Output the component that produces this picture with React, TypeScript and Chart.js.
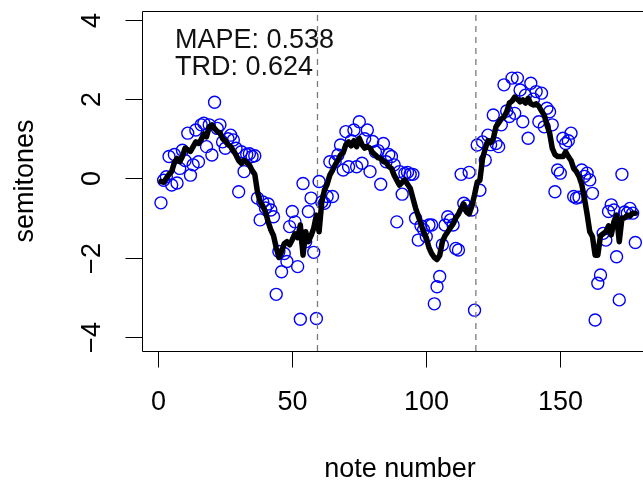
import React, { useEffect, useRef } from "react";
import { Chart, registerables } from "chart.js";

Chart.register(...registerables);

// Observed note pitches (semitones), one per note number 1..178
const observedPitch = [
  -0.62, -0.05, 0.04, 0.55, -0.17, 0.6, -0.12, 0.25, 0.71, 0.45,
  1.14, 0.08, 0.34, 1.22, 0.42, 1.35, 1.39, 0.8, 1.35, 0.59,
  1.92, 1.26, 1.35, 0.92, 0.76, 1.0, 1.09, 0.97, 0.76, -0.34,
  0.67, 0.17, 0.6, 0.62, 0.55, 0.57, -0.5, -1.05, -0.6, -0.75,
  -0.65, -0.8, -0.97, -2.93, -1.85, -2.36, -1.9, -2.1, -1.22, -0.84,
  -1.1, -2.23, -3.56, -0.13, -1.6, -0.84, -0.5, -1.87, -3.54, -0.08,
  -0.6, -0.63, -0.46, 0.42, -0.46, 0.42, 0.59, 0.84, 0.21, 1.18,
  0.29, 0.95, 1.22, 0.29, 1.43, 0.38, 1.0, 1.22, 0.17, 0.93,
  0.67, 0.7, -0.15, 0.88, 0.42, 0.6, 0.55, 0.34, -1.1, 0.17,
  -0.4, 0.12, 0.15, 0.1, 0.1, -1.01, -1.56, -1.2, -1.3, -1.47,
  -1.18, -1.18, -3.17, -2.74, -2.48, -1.68, -1.18, -0.97, -1.05, -1.18,
  -1.77, -1.81, 0.1, -0.63, -0.7, 0.15, -0.8, -3.33, 0.84, -0.3,
  0.92, 0.46, 1.09, 0.85, 1.6, 0.88, 0.8, 1.35, 2.36, 1.7,
  1.56, 2.53, 1.64, 2.53, 2.23, 1.43, 2.1, 1.01, 2.4, 2.0,
  2.19, 1.43, 2.15, 1.3, 1.77, 1.68, 1.35, -0.34, 0.21, 0.13,
  1.01, 0.88, 0.95, 1.14, -0.46, -0.5, -0.48, 0.21, 0.05, 0.13,
  -0.04, -0.38, -3.58, -2.65, -2.44, -1.39, -1.56, -0.84, -0.67, -0.8,
  -1.98, -3.07, 0.1, -0.85, -0.88, -0.76, -0.88, -1.62,
];

// Fitted / smoothed contour (semitones), one per note number 1..178
const fittedPitch = [
  -0.08, -0.1, 0.0, 0.1, 0.17, 0.4, 0.5, 0.42, 0.55, 0.76,
  0.72, 0.68, 0.8, 0.92, 0.88, 0.98, 1.12, 1.05, 1.3, 1.35,
  1.26, 1.18, 1.15, 1.0, 0.95, 0.85, 0.8, 0.7, 0.59, 0.45,
  0.38, 0.45, 0.4, 0.34, 0.2, 0.1, -0.34, -0.59, -0.7, -0.85,
  -1.1, -1.3, -1.45, -1.75, -2.0, -1.85, -1.65, -1.6, -1.68, -1.55,
  -1.4, -1.5, -1.18, -1.94, -1.35, -1.6, -1.45, -1.26, -0.93, -1.35,
  -0.6, -0.3, -0.15, 0.08, 0.2, 0.34, 0.45, 0.59, 0.65, 0.85,
  0.92, 0.82, 0.95, 0.8, 1.01, 0.85, 0.76, 0.8, 0.76, 0.65,
  0.59, 0.52, 0.5, 0.42, 0.4, 0.3, 0.25, 0.08, -0.05, -0.17,
  -0.1, -0.04, -0.15, -0.25, -0.5, -0.75, -0.95, -1.15, -1.35, -1.5,
  -1.75, -1.9, -2.0, -2.05, -1.95, -1.6, -1.45, -1.35, -1.25, -1.15,
  -1.0, -0.9, -0.76, -0.65, -0.85, -0.9, -0.7, -0.42, -0.1, -0.05,
  0.5, 0.75, 0.95, 0.9, 1.0, 1.3, 1.4, 1.5, 1.55, 1.68,
  1.9, 1.95, 2.05, 2.0, 1.93, 1.98, 1.9, 2.02, 1.88, 1.85,
  1.88, 1.82, 1.7, 1.6, 1.35, 1.15, 0.76, 0.6, 0.55, 0.55,
  0.55, 0.67, 0.55, 0.45, 0.25, 0.17, 0.05, -0.15, -0.5, -0.9,
  -1.35, -1.47, -1.94, -1.94, -1.45, -1.4, -1.35, -1.2, -1.43, -1.1,
  -0.93, -1.6, -1.01, -1.0, -0.93, -0.95, -0.88, -0.88,
];

// Phrase boundaries (dashed vertical lines)
const boundaries = [59.4, 118.5];

const xTicks = [0, 50, 100, 150];
const yTicks = [-4, -2, 0, 2, 4];
const metricLines = ["MAPE: 0.538", "TRD: 0.624"];
const xTitle = "note number";
const yTitle = "semitones";

const X_MIN = -6.19;
const X_MAX = 180.86;
const Y_MIN = -4.361;
const Y_MAX = 4.225;

const FONT = '27px "Liberation Sans", Arial, Helvetica, sans-serif';

const rAxesPlugin = {
  id: "rAxes",
  afterDraw(chart: any) {
    const ctx = chart.ctx as CanvasRenderingContext2D;
    const { left, top, right, bottom } = chart.chartArea;
    const xs = chart.scales.x;
    const ys = chart.scales.y;
    ctx.save();
    ctx.strokeStyle = "#000";
    ctx.lineWidth = 1;
    // box (right side lies beyond the canvas)
    const L = Math.round(left) + 0.5;
    const T = Math.round(top) + 0.5;
    const B = Math.round(bottom) + 0.5;
    ctx.beginPath();
    ctx.moveTo(right + 10, T);
    ctx.lineTo(L, T);
    ctx.lineTo(L, B);
    ctx.lineTo(right + 10, B);
    ctx.stroke();

    ctx.fillStyle = "#000";
    ctx.font = FONT;
    // x ticks + labels
    ctx.textAlign = "center";
    ctx.textBaseline = "middle";
    xTicks.forEach((v) => {
      const px = Math.round(xs.getPixelForValue(v)) + 0.5;
      ctx.beginPath();
      ctx.moveTo(px, B);
      ctx.lineTo(px, B + 16);
      ctx.stroke();
      ctx.fillText(String(v), px, 403);
    });
    // y ticks + rotated labels
    yTicks.forEach((v) => {
      const py = Math.round(ys.getPixelForValue(v)) + 0.5;
      ctx.beginPath();
      ctx.moveTo(L - 17, py);
      ctx.lineTo(L, py);
      ctx.stroke();
      ctx.save();
      ctx.translate(93, py);
      ctx.rotate(-Math.PI / 2);
      ctx.fillText(v < 0 ? "\u2212" + String(-v) : String(v), 0, 0);
      ctx.restore();
    });
    // axis titles
    ctx.fillText(xTitle, 400, 470);
    ctx.save();
    ctx.translate(26, (top + bottom) / 2);
    ctx.rotate(-Math.PI / 2);
    ctx.fillText(yTitle, 0, 0);
    ctx.restore();
    // metrics text
    ctx.textAlign = "left";
    ctx.textBaseline = "alphabetic";
    ctx.fillStyle = "#111";
    ctx.fillText(metricLines[0], 175, 47.5);
    ctx.fillText(metricLines[1], 175, 75);
    ctx.restore();
  },
};

export default function App() {
  const canvasRef = useRef<HTMLCanvasElement | null>(null);

  useEffect(() => {
    const canvas = canvasRef.current;
    if (!canvas) return;
    const points = observedPitch.map((y, i) => ({ x: i + 1, y }));
    const fitted = fittedPitch.map((y, i) => ({ x: i + 1, y }));
    const boundaryDatasets = boundaries.map((b) => ({
      type: "line" as const,
      data: [
        { x: b, y: Y_MIN },
        { x: b, y: Y_MAX },
      ],
      borderColor: "#7a7a7a",
      borderWidth: 1.3,
      borderDash: [6, 5],
      pointRadius: 0,
      showLine: true,
      order: 1,
    }));
    const chart = new Chart(canvas, {
      type: "scatter",
      data: {
        datasets: [
          {
            type: "line",
            data: fitted,
            borderColor: "#000",
            borderWidth: 5.5,
            borderJoinStyle: "round",
            borderCapStyle: "round",
            pointRadius: 0,
            showLine: true,
            tension: 0,
            order: 0,
          } as any,
          ...boundaryDatasets,
          {
            data: points,
            pointStyle: "circle",
            pointRadius: 6,
            pointBorderWidth: 1.4,
            pointBorderColor: "#0000ff",
            pointBackgroundColor: "rgba(0,0,0,0)",
            showLine: false,
            order: 2,
          },
        ],
      },
      options: {
        animation: false,
        responsive: false,
        maintainAspectRatio: false,
        devicePixelRatio: 1,
        layout: { autoPadding: false, padding: { left: 141.7, top: 11, right: 0, bottom: 135 } },
        plugins: {
          legend: { display: false },
          tooltip: { enabled: false },
          title: { display: false },
        },
        scales: {
          x: { type: "linear", min: X_MIN, max: X_MAX, display: false },
          y: { type: "linear", min: Y_MIN, max: Y_MAX, display: false },
        },
      },
      plugins: [rAxesPlugin],
    });
    return () => chart.destroy();
  }, []);

  return (
    <div style={{ position: "absolute", left: 0, top: 0, width: 643, height: 486, background: "#fff" }}>
      <canvas ref={canvasRef} width={643} height={486} style={{ width: 643, height: 486, display: "block" }} />
    </div>
  );
}
